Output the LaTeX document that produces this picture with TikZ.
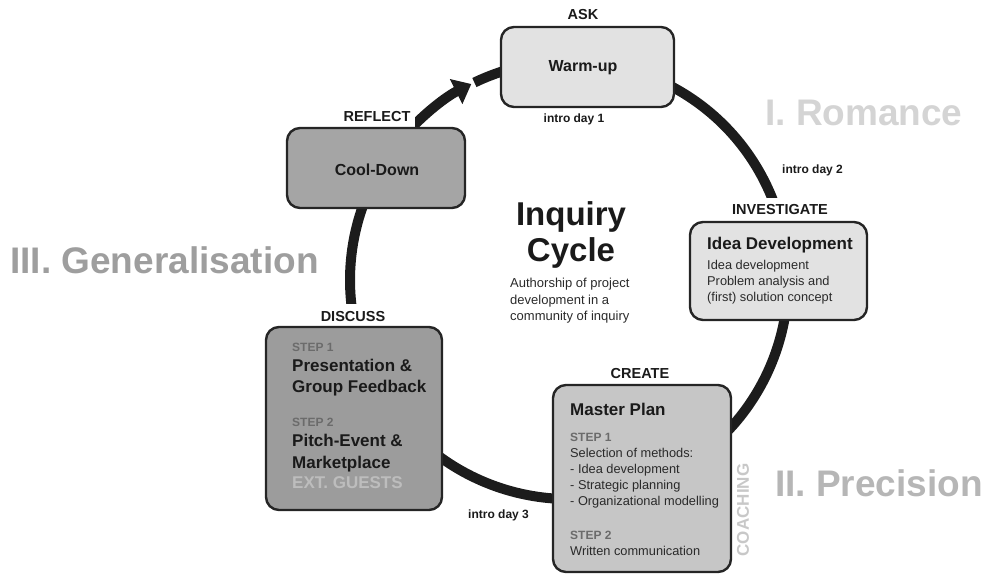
\documentclass[tikz,border=0pt]{standalone}
\usepackage{fontspec}
\setmainfont{Liberation Sans}
\usetikzlibrary{arrows.meta}

\definecolor{ringc}{HTML}{1C1C1C}
\definecolor{edgec}{HTML}{252525}
\definecolor{labc}{HTML}{1A1A1A}
\definecolor{bodyc}{HTML}{2A2A2A}
\definecolor{lightfill}{HTML}{E2E2E2}
\definecolor{coolfill}{HTML}{A5A5A5}
\definecolor{discfill}{HTML}{9C9C9C}
\definecolor{planfill}{HTML}{C6C6C6}
\definecolor{stageI}{HTML}{D4D4D4}
\definecolor{stageII}{HTML}{B6B6B6}
\definecolor{stageIII}{HTML}{9E9E9E}
\definecolor{tagc}{HTML}{6B6B6B}
\definecolor{guestc}{HTML}{BDBDBD}
\definecolor{coachc}{HTML}{C8C8C8}

\newcommand\pxsize[1]{\fontsize{#1}{#1}\selectfont}

\tikzset{
  ring/.style={line width=10pt, draw=ringc},
  card/.style={draw=edgec, line width=2.4pt, rounded corners=13pt, inner sep=0pt},
  phase/.style={fill=white, inner xsep=5pt, inner ysep=6.5pt, font=\bfseries\pxsize{14.5}, text=labc},
  day/.style={inner sep=0pt, font=\bfseries\pxsize{12}, text=labc},
  stage/.style={inner sep=0pt, anchor=west, font=\bfseries\pxsize{37}},
  boxtitle/.style={inner sep=0pt, anchor=west, text height=0.75em, text depth=0.2em,
                   font=\bfseries\pxsize{17}, text=labc},
  body/.style={inner sep=0pt, anchor=west, text height=0.75em, text depth=0.2em,
               font=\pxsize{12.8}, text=bodyc},
  steptag/.style={inner sep=0pt, anchor=west, text height=0.75em, text depth=0.2em,
                  font=\bfseries\pxsize{12}, text=tagc},
  headline/.style={inner sep=0pt, font=\bfseries\pxsize{33}, text=labc},
}

\begin{document}
\begin{tikzpicture}[x=1pt, y=-1pt]
\useasboundingbox (0,0) rectangle (984,574);

% centre of the cycle
\coordinate (hub) at (569,280);

% the cycle ring: arrow from Cool-Down up towards Warm-up, then the rest
\draw[ring, -{Triangle[length=17pt,width=27pt]}]
  ([shift={(222:219)}]hub) arc[start angle=222, end angle=243.5, radius=219];
\draw[ring]
  ([shift={(244.4:219)}]hub) arc[start angle=244.4, end angle=580, radius=219];

% phase labels (white ground interrupts the ring)
\node[phase] (ask) at (583,15) {ASK};
\node[phase] (reflect) at (377,117) {REFLECT};
\node[phase] (investigate) at (780,210) {INVESTIGATE};
\node[phase] (discuss) at (353,316) {DISCUSS};
\node[phase] (create) at (640,373) {CREATE};

% phase boxes
\node[card, fill=lightfill, minimum width=173pt, minimum height=80pt] (warm) at (587.5,67) {};
\node[card, fill=coolfill, minimum width=178pt, minimum height=80pt] (cool) at (376,168) {};
\node[card, fill=lightfill, minimum width=177pt, minimum height=98pt] (idea) at (778.5,271) {};
\node[card, fill=discfill, minimum width=176pt, minimum height=183pt] (disc) at (354,418.5) {};
\node[card, fill=planfill, minimum width=178pt, minimum height=187pt] (plan) at (642,478.5) {};

% intro days
\node[day] (day1) at (574,119) {intro day 1};
\node[day, anchor=west] (day2) at (782,170) {intro day 2};
\node[day, anchor=west] (day3) at (468,515) {intro day 3};

% stages
\node[stage, text=stageI] (romance) at (765,113) {I. Romance};
\node[stage, text=stageII] (precision) at (775,483) {II. Precision};
\node[stage, text=stageIII] (general) at (10,260) {III. Generalisation};
\node[inner sep=0pt, rotate=90, font=\bfseries\pxsize{17}, text=coachc] (coach) at (743,510) {COACHING};

% centre title
\node[headline] (inq) at (571,217) {Inquiry};
\node[headline] (cyc) at (571,253) {Cycle};
\node[body, font=\pxsize{13}] (sub1) at (510,285) {Authorship of project};
\node[body, font=\pxsize{13}] (sub2) at (510,302) {development in a};
\node[body, font=\pxsize{13}] (sub3) at (510,318) {community of inquiry};

% Warm-up
\node[inner sep=0pt, font=\bfseries\pxsize{16}, text=labc] (warmt) at (583,68) {Warm-up};

% Cool-Down
\node[inner sep=0pt, font=\bfseries\pxsize{16}, text=labc] (coolt) at (377,170) {Cool-Down};

% Idea Development
\node[boxtitle] (ideat) at (707,247) {Idea Development};
\node[body] (idea1) at (707,267) {Idea development};
\node[body] (idea2) at (707,283) {Problem analysis and};
\node[body] (idea3) at (707,299) {(first) solution concept};

% Discussion
\node[steptag] (dstep1) at (292,349) {STEP 1};
\node[boxtitle] (dt1) at (292,369) {Presentation \&};
\node[boxtitle] (dt2) at (292,390) {Group Feedback};
\node[steptag] (dstep2) at (292,424) {STEP 2};
\node[boxtitle] (dt3) at (292,444) {Pitch-Event \&};
\node[boxtitle] (dt4) at (292,466) {Marketplace};
\node[boxtitle, text=guestc] (guests) at (292,486) {EXT. GUESTS};

% Master Plan
\node[boxtitle] (plant) at (570,413) {Master Plan};
\node[steptag] (pstep1) at (570,439) {STEP 1};
\node[body] (p1) at (570,455) {Selection of methods:};
\node[body] (p2) at (570,471) {- Idea development};
\node[body] (p3) at (570,487) {- Strategic planning};
\node[body] (p4) at (570,503) {- Organizational modelling};
\node[steptag] (pstep2) at (570,537) {STEP 2};
\node[body] (p5) at (570,553) {Written communication};

\end{tikzpicture}
\end{document}
